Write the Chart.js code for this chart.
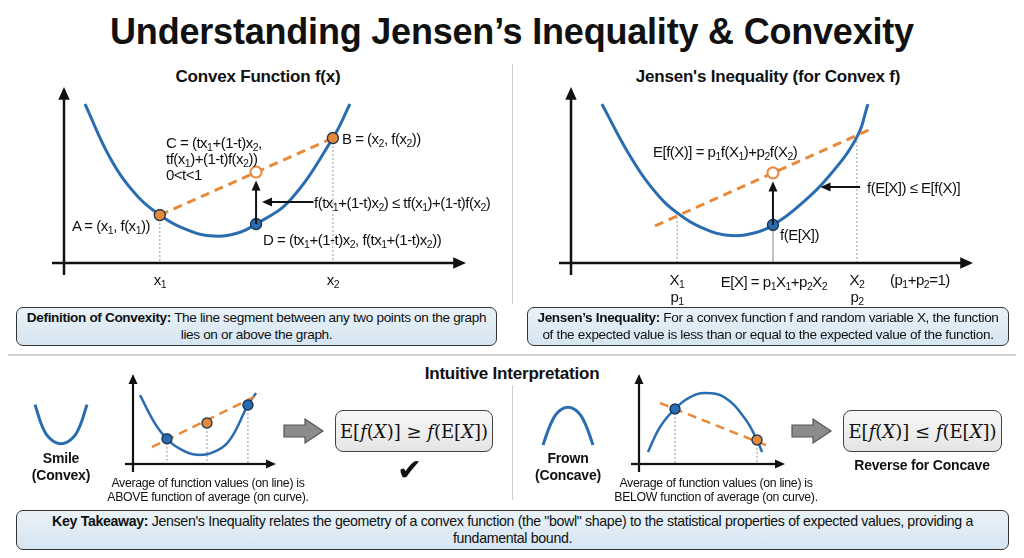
<!DOCTYPE html>
<html><head><meta charset="utf-8">
<script src="https://cdn.jsdelivr.net/npm/chart.js@4"></script>
<style>
body{margin:0;width:1024px;height:558px;background:#fff;position:relative;overflow:hidden;font-family:"Liberation Sans",Arial,sans-serif;color:#111}
.t{position:absolute;white-space:nowrap;line-height:1;letter-spacing:-0.2px}
.c{transform:translateX(-50%);text-align:center}
.m{transform:translateY(-50%)}
canvas{position:absolute}
.box{position:absolute;border:1.5px solid #333;border-radius:7px;background:linear-gradient(#eaf2f8,#d5e5f1);font-size:13.6px;letter-spacing:-0.35px;text-align:center;line-height:1.2;box-sizing:border-box;display:flex;align-items:center;justify-content:center;white-space:nowrap}
.fbox{position:absolute;border:1.5px solid #444;border-radius:8px;background:linear-gradient(#f8f8f8,#e4e4e4);font-family:"DejaVu Serif","Liberation Serif",serif;font-size:18px;display:flex;align-items:center;justify-content:center;box-sizing:border-box;white-space:pre}
.ln{position:absolute;background:#cfcfcf}
sub{font-size:70%;vertical-align:-3px;line-height:0}
.lb{font-size:15px;letter-spacing:-0.5px}
</style></head><body>
<div class="t c" style="left:512px;top:14px;font-size:36px;font-weight:bold;letter-spacing:-0.2px">Understanding Jensen’s Inequality &amp; Convexity</div>
<div class="t c" style="left:258px;top:68px;font-size:17px;font-weight:bold">Convex Function f(x)</div>
<div class="t c" style="left:768px;top:68px;font-size:17px;font-weight:bold">Jensen's Inequality (for Convex f)</div>
<div class="ln" style="left:512px;top:64px;width:1px;height:240px"></div>
<div class="ln" style="left:8px;top:354px;width:1008px;height:2px"></div>
<div class="ln" style="left:512px;top:385px;width:1px;height:115px"></div>
<div class="t c" style="left:512px;top:365px;font-size:17px;font-weight:bold">Intuitive Interpretation</div>

<canvas id="c1" width="436" height="210"></canvas><canvas id="c2" width="436" height="210"></canvas>
<canvas id="c3" width="165" height="112"></canvas><canvas id="c4" width="168" height="112"></canvas>
<canvas id="c5" width="64" height="58"></canvas><canvas id="c6" width="62" height="53"></canvas>

<div class="t lb" style="left:166px;top:135px;line-height:16px">C = (tx<sub>1</sub>+(1-t)x<sub>2</sub>,<br>tf(x<sub>1</sub>)+(1-t)f(x<sub>2</sub>))<br>0&lt;t&lt;1</div>
<div class="t m lb" style="left:342px;top:138px">B = (x<sub>2</sub>, f(x<sub>2</sub>))</div>
<div class="t m lb" style="left:72px;top:225px">A = (x<sub>1</sub>, f(x<sub>1</sub>))</div>
<div class="t m lb" style="left:263px;top:239px">D = (tx<sub>1</sub>+(1-t)x<sub>2</sub>, f(tx<sub>1</sub>+(1-t)x<sub>2</sub>))</div>
<div class="t m lb" style="left:314px;top:202px">f(tx<sub>1</sub>+(1-t)x<sub>2</sub>) ≤ tf(x<sub>1</sub>)+(1-t)f(x<sub>2</sub>)</div>
<div class="t c lb" style="left:160px;top:272px">x<sub>1</sub></div>
<div class="t c lb" style="left:333px;top:272px">x<sub>2</sub></div>
<div class="t m lb" style="left:653px;top:151px">E[f(X)] = p<sub>1</sub>f(X<sub>1</sub>)+p<sub>2</sub>f(X<sub>2</sub>)</div>
<div class="t m lb" style="left:867px;top:187px">f(E[X]) ≤ E[f(X)]</div>
<div class="t m lb" style="left:780px;top:234px">f(E[X])</div>
<div class="t c lb" style="left:677px;top:271px;line-height:17px">X<sub>1</sub><br>p<sub>1</sub></div>
<div class="t c lb" style="left:774px;top:274px">E[X] = p<sub>1</sub>X<sub>1</sub>+p<sub>2</sub>X<sub>2</sub></div>
<div class="t c lb" style="left:857px;top:271px;line-height:17px">X<sub>2</sub><br>p<sub>2</sub></div>
<div class="t lb" style="left:890px;top:272px">(p<sub>1</sub>+p<sub>2</sub>=1)</div>

<div class="box" style="left:16px;top:307px;width:481px;height:39px"><div><b>Definition of Convexity:</b> The line segment between any two points on the graph<br>lies on or above the graph.</div></div>
<div class="box" style="left:527px;top:307px;width:482px;height:39px"><div><b>Jensen’s Inequality:</b> For a convex function f and random variable X, the function<br>of the expected value is less than or equal to the expected value of the function.</div></div>

<div class="t c" style="left:61px;top:450px;font-size:14px;font-weight:bold;line-height:17px">Smile<br>(Convex)</div>
<div class="t c" style="left:568px;top:450px;font-size:14px;font-weight:bold;line-height:17px">Frown<br>(Concave)</div>
<div class="t c" style="left:208px;top:476px;font-size:12.3px;line-height:14px;letter-spacing:-0.3px">Average of function values (on line) is<br>ABOVE function of average (on curve).</div>
<div class="t c" style="left:716px;top:476px;font-size:12.3px;line-height:14px;letter-spacing:-0.3px">Average of function values (on line) is<br>BELOW function of average (on curve).</div>
<div class="fbox" style="left:335px;top:410px;width:158px;height:42px">E[<i>f</i>(<i>X</i>)] ≥ <i>f</i>(E[<i>X</i>])</div>
<div class="fbox" style="left:843px;top:410px;width:159px;height:42px">E[<i>f</i>(<i>X</i>)] ≤ <i>f</i>(E[<i>X</i>])</div>
<div class="t c" style="left:409px;top:455px;font-size:30px">✔</div>
<div class="t c" style="left:922px;top:458px;font-size:14px;font-weight:bold">Reverse for Concave</div>
<svg style="position:absolute;left:283px;top:418px" width="42" height="26"><polygon points="1,7 22,7 22,1 40,13 22,25 22,19 1,19" fill="#8c8c8c" stroke="#555" stroke-width="1.2"/></svg>
<svg style="position:absolute;left:791px;top:418px" width="42" height="26"><polygon points="1,7 22,7 22,1 40,13 22,25 22,19 1,19" fill="#8c8c8c" stroke="#555" stroke-width="1.2"/></svg>
<div class="box" style="left:16px;top:510px;width:993px;height:40px;font-size:14.2px"><div><b>Key Takeaway:</b> Jensen's Inequality relates the geometry of a convex function (the "bowl" shape) to the statistical properties of expected values, providing a<br>fundamental bound.</div></div>

<script>
const BLUE='#2a6cb0', ORANGE='#e8893a';
const curve1X=[0.53,1.16,1.79,2.42,3.06,3.69,4.32,4.85,5.71,6.79,7.22];
const curve1Y=[9.35,6.2,4.1,2.82,2.0,1.6,1.72,2.29,3.7,7.35,9.35];
const chord1X=[2.42,6.79], chord1Y=[2.82,7.35];
const pointC=[4.85,5.35], pointD=[4.85,2.29];
const curve2X=[0.78,1.49,2.12,2.68,3.38,4.02,4.65,5.1,5.78,6.54,7.22,7.5];
const curve2Y=[9.35,6.3,4.2,2.95,2.0,1.62,1.78,2.24,3.41,5.18,7.41,9.35];
const chord2X=[2.12,7.63], chord2Y=[2.18,7.94];
const pointEf=[5.1,5.3], pointfE=[5.1,2.24];
const X1X2=[2.68,7.22], X1X2Y=[2.95,7.41];
const curve3X=[0.51,1.61,2.48,3.43,4.67,5.99,7.08,8.39,8.98];
const curve3Y=[8.21,4.8,3.0,1.8,1.1,1.5,2.9,7.02,8.45];
const chord3X=[1.39,9.27], chord3Y=[2.02,8.33];
const blue3X=[2.48,8.39], blue3Y=[3.0,7.02], orange3=[5.4,4.88];
const curve4X=[0.64,1.5,2.57,3.64,4.71,6.14,7.57,8.43,8.79];
const curve4Y=[1.43,4.4,6.55,7.95,8.45,7.9,5.4,2.86,1.43];
const chord4X=[1.5,9.21], chord4Y=[7.26,2.14];
const blue4=[2.57,6.55], orange4=[8.43,2.86];
const smileX=[0,1.5,3,5,7,8.5,10], smileY=[9,4,1.5,0.5,1.5,4,9];
const frownX=[0,1.5,3,5,7,8.5,10], frownY=[0,5,8,9.2,8,5,0];

const zip=(xs,ys)=>xs.map((x,i)=>({x,y:ys[i]}));
const curve=(xs,ys,w)=>({data:zip(xs,ys),borderColor:BLUE,borderWidth:w||3,pointRadius:0,showLine:true,tension:0.4,fill:false});
const chord=(xs,ys,w)=>({data:zip(xs,ys),borderColor:ORANGE,borderWidth:w||3,borderDash:[9,6],pointRadius:0,showLine:true});
const dot=(pts,fill,r)=>({data:pts.map(p=>({x:p[0],y:p[1]})),showLine:false,pointRadius:r||5.5,pointBackgroundColor:fill,pointBorderColor:fill==='#fff'?ORANGE:'#1b3552',pointBorderWidth:fill==='#fff'?2:1.3});

const deco={id:'deco',
 beforeDatasetsDraw(ch,a,o){
  const c=ch.ctx,xs=ch.scales.x,ys=ch.scales.y;
  const X=v=>xs.getPixelForValue(v),Y=v=>ys.getPixelForValue(v);
  c.save();
  (o.vlines||[]).forEach(v=>{c.strokeStyle=v[3]||'#999';c.lineWidth=1;c.setLineDash(v[2]?[]:[2,2]);c.beginPath();c.moveTo(X(v[0]),Y(v[1]));c.lineTo(X(v[0]),Y(0));c.stroke();});
  c.restore();
 },
 afterDatasetsDraw(ch,a,o){
  const c=ch.ctx,xs=ch.scales.x,ys=ch.scales.y,ca=ch.chartArea;
  const X=v=>xs.getPixelForValue(v),Y=v=>ys.getPixelForValue(v);
  c.save();
  const head=(x1,y1,x2,y2,s)=>{const an=Math.atan2(y2-y1,x2-x1);c.beginPath();c.moveTo(x2,y2);c.lineTo(x2-s*Math.cos(an-0.42),y2-s*Math.sin(an-0.42));c.lineTo(x2-s*Math.cos(an+0.42),y2-s*Math.sin(an+0.42));c.closePath();c.fill();};
  c.strokeStyle='#111';c.fillStyle='#111';
  if(o.axes){const e=o.axes;c.lineWidth=e.w||2.5;
    c.beginPath();c.moveTo(ca.left,ca.bottom+e.ext);c.lineTo(ca.left,ca.top+4);c.stroke();head(ca.left,ca.bottom,ca.left,ca.top-6,e.h);
    c.beginPath();c.moveTo(ca.left-e.ext,ca.bottom);c.lineTo(ca.right-4,ca.bottom);c.stroke();head(ca.left,ca.bottom,ca.right+6,ca.bottom,e.h);}
  (o.arrows||[]).forEach(r=>{const x1=X(r[0]),y1=Y(r[1]),x2=X(r[2]),y2=Y(r[3]);c.lineWidth=2;c.beginPath();c.moveTo(x1,y1);c.lineTo(x2-(x2-x1)*0.05,y2-(y2-y1)*0.05);c.stroke();head(x1,y1,x2,y2,11);});
  c.restore();
 }};
function mk(id,L,T,R,B,P,datasets,deco_o){
  const cv=document.getElementById(id);
  cv.style.left=(L-P)+'px';cv.style.top=(T-P)+'px';
  datasets.forEach(d=>d.clip=false);
  new Chart(cv,{type:'scatter',data:{datasets},plugins:[deco],options:{responsive:false,animation:false,devicePixelRatio:2,
    layout:{padding:P},plugins:{legend:{display:false},tooltip:{enabled:false},deco:deco_o},
    scales:{x:{display:false,min:0,max:10},y:{display:false,min:0,max:10}}}});
}
mk('c1',64,93,460,263,20,[
  dot([pointC],'#fff',5.5),dot([[chord1X[0],chord1Y[0]],[chord1X[1],chord1Y[1]]],ORANGE,5.5),dot([pointD],BLUE,5.5),
  chord(chord1X,chord1Y),curve(curve1X,curve1Y)],
  {axes:{ext:12,h:14},vlines:[[chord1X[0],chord1Y[0]],[chord1X[1],chord1Y[1]]],
   arrows:[[pointD[0],pointD[1],pointC[0],pointC[1]-0.5],[6.3,3.59,5.0,3.59]]});
mk('c2',571,93,967,263,20,[
  dot([pointEf],'#fff',5.5),dot([pointfE],BLUE,5.5),
  chord(chord2X,chord2Y),curve(curve2X,curve2Y)],
  {axes:{ext:12,h:14},vlines:[[X1X2[0],X1X2Y[0]],[X1X2[1],X1X2Y[1]],[pointfE[0],pointfE[1],true,'#888']],
   arrows:[[pointfE[0],pointfE[1],pointEf[0],pointEf[1]-0.5],[7.3,4.47,6.3,4.47]]});
mk('c3',133,380,270,464,14,[
  dot([[blue3X[0],blue3Y[0]],[blue3X[1],blue3Y[1]]],BLUE,5),dot([orange3],ORANGE,5),
  chord(chord3X,chord3Y,2.5),curve(curve3X,curve3Y,2.5)],
  {axes:{ext:8,h:11,w:2.2},vlines:[[blue3X[0],blue3Y[0]],[orange3[0],orange3[1]],[blue3X[1],blue3Y[1]]]});
mk('c4',639,380,779,464,14,[
  dot([blue4],BLUE,5),dot([orange4],ORANGE,5),
  chord(chord4X,chord4Y,2.5),curve(curve4X,curve4Y,2.5)],
  {axes:{ext:8,h:11,w:2.2},vlines:[[blue4[0],blue4[1]],[orange4[0],orange4[1]]]});
mk('c5',35,400,87,446,6,[curve(smileX,smileY,3)],{});
mk('c6',543,404,593,445,6,[curve(frownX,frownY,3)],{});
</script>
</body></html>
